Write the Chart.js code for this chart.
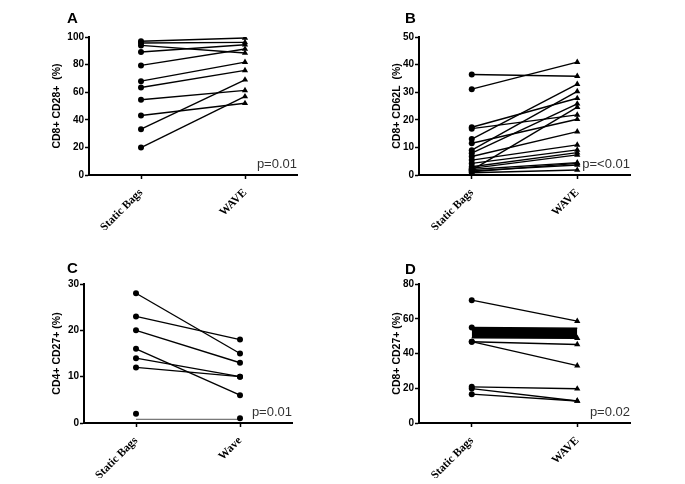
<!DOCTYPE html>
<html>
<head>
  <title>CD27 / CD28 / CD62L static bags vs WAVE</title>
  <script src="https://cdn.jsdelivr.net/npm/chart.js@4.4.1/dist/chart.umd.min.js"></script>
<style>
  body{margin: 0; background: #fff;}
  #page{position: relative; width: 685px; height: 484px; background: #fff;}
  .panel{position: absolute;}
  #cA{left: 0px; top: 0px;}
  #cB{left: 342px; top: 0px;}
  #cC{left: 0px; top: 242px;}
  #cD{left: 342px; top: 242px;}
</style>
</head>
<body>
<div id="page">
  <canvas id="cA" class="panel" width="342" height="242"></canvas>
  <canvas id="cB" class="panel" width="343" height="242"></canvas>
  <canvas id="cC" class="panel" width="342" height="242"></canvas>
  <canvas id="cD" class="panel" width="343" height="242"></canvas>
</div>
<script>
// ---------------- data ----------------
var labelsA = ['Static Bags', 'WAVE'];
var aStatic = [96.9, 95.6, 93.9, 89.1, 79.4, 68.0, 63.4, 54.5, 43.1, 33.2, 19.9];
var aWave   = [99.3, 96.1, 88.4, 94.4, 91.3, 81.8, 75.8, 61.3, 52.0, 69.0, 56.9];
var aTicks  = [0, 20, 40, 60, 80, 100];

var labelsB = ['Static Bags', 'WAVE'];
var bStatic = [36.4, 31.1, 17.3, 16.8, 13.0, 11.5, 9.0, 7.9, 6.7, 5.4, 4.2, 3.0, 2.4, 1.8, 1.2, 1.5, 0.8, 2.0];
var bWave   = [35.8, 40.9, 27.8, 21.8, 32.9, 20.2, 30.3, 25.8, 15.7, 10.9, 9.1, 8.1, 7.3, 24.6, 4.2, 3.6, 1.8, 4.5];
var bTicks  = [0, 10, 20, 30, 40, 50];

var labelsC = ['Static Bags', 'Wave'];
var cStatic = [28, 23, 20, 16, 14, 12, 2];
var cWave   = [15, 18, 13, 6, 10, 10, 1];
var cNoLine = [6];          // pair drawn without connecting line
var cBase   = [0.8, 0.8];   // thin grey line near the bottom
var cTicks  = [0, 10, 20, 30];

var labelsD = ['Static Bags', 'WAVE'];
var dStatic = [70.7, 46.8, 46.8, 20.8, 19.8, 16.6];
var dWave   = [58.6, 45.2, 33.0, 19.7, 12.7, 12.7];
var dBandTop    = [54.9, 54.6];
var dBandBottom = [49.0, 48.8];
var dTicks  = [0, 20, 40, 60, 80];

// ---------------- helpers ----------------
var sansBold = {family: "'Liberation Sans', Arial, sans-serif", weight: 'bold', size: 10};

function pairSets(st, wv, shapes, noLine) {
  var sets = [];
  for (var i = 0; i < st.length; i++) {
    sets.push({
      data: [st[i], wv[i]],
      borderColor: '#000',
      backgroundColor: '#000',
      borderWidth: 1.4,
      showLine: !(noLine && noLine.indexOf(i) >= 0),
      pointStyle: shapes,
      pointRadius: [3, shapes[1] == 'triangle' ? 3.6 : 3],
      pointBorderWidth: 0,
      fill: false
    });
  }
  return sets;
}

// panel letter + p value text
var panelText = {
  id: 'panelText',
  afterDraw: function(chart, args, opts) {
    var ctx = chart.ctx, a = chart.chartArea;
    ctx.save();
    ctx.fillStyle = '#000';
    ctx.font = "bold 15px 'Liberation Sans', Arial, sans-serif";
    ctx.textAlign = 'left';
    ctx.textBaseline = 'alphabetic';
    ctx.fillText(opts.letter, a.left + opts.lx, a.top + opts.ly);
    ctx.fillStyle = '#333';
    ctx.font = "13px 'Liberation Sans', Arial, sans-serif";
    ctx.textAlign = 'right';
    ctx.fillText(opts.p, a.right, a.bottom - 7);
    ctx.restore();
  }
};

function makePanel(id, p) {
  var cv = document.getElementById(id);
  var xH = 55;
  return new Chart(cv, {
    type: 'line',
    data: {labels: p.labels, datasets: p.datasets},
    plugins: [panelText],
    options: {
      responsive: false,
      animation: false,
      layout: {padding: {left: 0, top: p.top, right: cv.width - p.right, bottom: cv.height - p.bottom - xH}},
      plugins: {
        legend: {display: false},
        tooltip: {enabled: false},
        panelText: {letter: p.letter, lx: p.lx, ly: p.ly, p: p.pval}
      },
      scales: {
        x: {
          type: 'category',
          offset: true,
          afterFit: function(s) { s.height = xH; },
          grid: {offset: false, drawOnChartArea: false, drawTicks: true, tickLength: 4, tickColor: '#000', tickWidth: 1.5},
          border: {display: true, color: '#000', width: 2},
          ticks: {
            minRotation: 45, maxRotation: 45, padding: 7, color: '#000',
            font: {family: "'Liberation Serif', 'Times New Roman', serif", weight: 'bold', size: 11.5}
          }
        },
        y: {
          min: 0, max: p.ticks[p.ticks.length - 1],
          afterFit: function(s) { s.width = p.left; },
          afterBuildTicks: function(s) { s.ticks = p.ticks.map(function(v) { return {value: v}; }); },
          grid: {drawOnChartArea: false, drawTicks: true, tickLength: 4, tickColor: '#000', tickWidth: 1.5},
          border: {display: true, color: '#000', width: 2},
          ticks: {padding: 1, color: '#000', font: sansBold},
          title: {display: true, text: p.title, color: '#000', padding: {top: p.titlePad, bottom: 0},
                  font: {family: "'Liberation Sans', Arial, sans-serif", weight: 'bold', size: 10.5}}
        }
      }
    }
  });
}

// ---------------- panels ----------------
makePanel('cA', {
  labels: labelsA, ticks: aTicks, title: 'CD8+ CD28+  (%)', letter: 'A', pval: 'p=0.01',
  left: 89, right: 297, top: 37, bottom: 175, titlePad: 51, lx: -22, ly: -14,
  datasets: pairSets(aStatic, aWave, ['circle', 'triangle'])
});

makePanel('cB', {
  labels: labelsB, ticks: bTicks, title: 'CD8+ CD62L  (%)', letter: 'B', pval: 'p=<0.01',
  left: 77, right: 288, top: 37, bottom: 175, titlePad: 49, lx: -14, ly: -14,
  datasets: pairSets(bStatic, bWave, ['circle', 'triangle'])
});

var cSets = pairSets(cStatic, cWave, ['circle', 'circle'], cNoLine);
cSets.push({data: cBase, borderColor: '#555', borderWidth: 1, pointRadius: 0, fill: false});
makePanel('cC', {
  labels: labelsC, ticks: cTicks, title: 'CD4+ CD27+ (%)', letter: 'C', pval: 'p=0.01',
  left: 84, right: 292, top: 42, bottom: 181, titlePad: 51, lx: -17, ly: -11,
  datasets: cSets
});

var dSets = pairSets(dStatic, dWave, ['circle', 'triangle']);
dSets.push({data: dBandTop, borderColor: '#000', backgroundColor: '#000', borderWidth: 1.5,
            pointStyle: 'circle', pointRadius: [3, 0], pointBorderWidth: 0, fill: false});
dSets.push({data: dBandBottom, borderColor: '#000', backgroundColor: '#000', borderWidth: 1.5,
            pointStyle: 'triangle', pointRadius: [0, 3.6], pointBorderWidth: 0, fill: '-1'});
makePanel('cD', {
  labels: labelsD, ticks: dTicks, title: 'CD8+ CD27+ (%)', letter: 'D', pval: 'p=0.02',
  left: 77, right: 288, top: 42, bottom: 181, titlePad: 49, lx: -14, ly: -10,
  datasets: dSets
});
</script>
</body>
</html>
